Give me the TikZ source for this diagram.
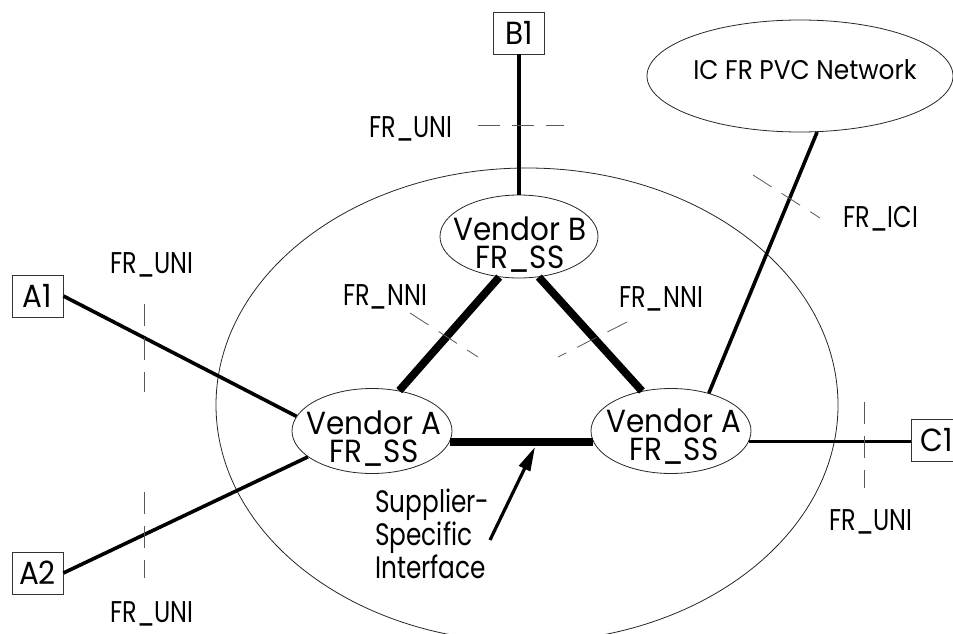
\documentclass[tikz,border=0pt]{standalone}
\usepackage{fontspec}
\setmainfont{Poppins}
\newfontfamily\fa{Poppins}[FakeStretch=0.92]
\newfontfamily\fb{Poppins}[FakeStretch=0.8]
\usetikzlibrary{shapes.geometric,arrows.meta}
\begin{document}
\begin{tikzpicture}[x=1pt,y=-1pt,
  box/.style={draw=black!80, line width=0.8pt, minimum width=51pt, minimum height=42pt, inner sep=0pt, font=\fa\fontsize{32}{32}\selectfont},
  oval/.style={draw=black!85, ellipse, line width=0.8pt, inner sep=0pt},
  vtxt/.style={anchor=base, inner sep=0pt, align=center, font=\fa\fontsize{32}{27.5}\selectfont},
  lbl/.style={anchor=base, inner sep=0pt, font=\fb\fontsize{30}{30}\selectfont},
  suptxt/.style={anchor=base west, inner sep=0pt, align=left, font=\fb\fontsize{31}{25}\selectfont},
  cut/.style={draw=black!65, line width=0.8pt, dash pattern=on 22pt off 12pt},
  link/.style={line width=3.6pt},
  trunk/.style={line width=7.8pt},
]
\useasboundingbox (0,0) rectangle (953,634);

% network cloud and ellipses
\node[oval, minimum width=622pt, minimum height=474pt] (net) at (527,405) {};
\node[oval, minimum width=306pt, minimum height=112pt] (ic) at (800,76) {};
\node[lbl, font=\fa\fontsize{27}{27}\selectfont] (ict) at (805,80) {IC FR PVC Network};

\node[oval, minimum width=158pt, minimum height=83pt] (vb) at (519,236.5) {};
\node[oval, minimum width=160pt, minimum height=85pt] (val) at (372,431) {};
\node[oval, minimum width=160pt, minimum height=85pt] (var) at (671,431) {};

% base anchor of a multi-line node = baseline of its last line
\node[vtxt] (vbt) at (520,268) {Vendor B\\FR\_SS};
\node[vtxt] (valt) at (374,462) {Vendor A\\FR\_SS};
\node[vtxt] (vart) at (674,460) {Vendor A\\FR\_SS};

% end boxes
\node[box] (a1) at (37.5,296) {A1};
\node[box] (b1) at (519,33) {B1};
\node[box] (a2) at (37.5,573) {A2};
\node[box] (c1) at (936.5,440) {C1};

% connectors
\draw[link] (b1) -- (vb);
\draw[link] (a1.east) -- (val.169);
\draw[link] (a2.east) -- (val.202);
\draw[link] (ic.287) -- (var.45);
\draw[line width=3pt] (var.352) -- (var.352 -| c1.west);
\draw[trunk] (vb.244) -- (val.56);
\draw[trunk] (vb.296) -- (var.126);
\draw[trunk] (val.352) -- (var.188);

% interface cut marks
\draw[cut] (478,125) -- (564,125);
\draw[cut] (144,304) -- (144,392);
\draw[cut] (144,492) -- (144,578);
\draw[cut] (864,402) -- (864,488);
\draw[cut] (753,175) -- (820,218);
\draw[cut] (410,313) -- (478,357);
\draw[cut] (627,322) -- (558,357);

% labels
\node[lbl] (l1) at (411,137) {FR\_UNI};
\node[lbl] (l2) at (152,273) {FR\_UNI};
\node[lbl] (l3) at (152,622) {FR\_UNI};
\node[lbl] (l4) at (871,530) {FR\_UNI};
\node[lbl] (l5) at (385,305) {FR\_NNI};
\node[lbl] (l6) at (661,307) {FR\_NNI};
\node[lbl] (l7) at (881,227) {FR\_ICI};

% supplier-specific interface
\node[suptxt] (sup) at (375,578) {Supplier-\\Specific\\Interface};
\coordinate (tail) at (490,540);
\coordinate (tip) at (535,447);
\draw[line width=3.2pt, -{Triangle[length=24pt,width=12pt]}] (tail) -- (tip);
\end{tikzpicture}
\end{document}
